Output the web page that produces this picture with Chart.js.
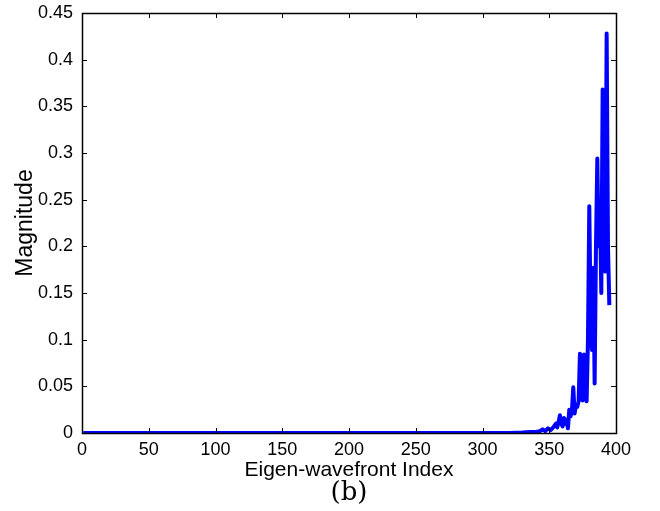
<!DOCTYPE html>
<html>
<head>
  <meta charset="UTF-8" />
  <title>Eigen-wavefront Magnitude</title>
  <style>
    body { margin: 0; background: #fff; }
    #wrap { width: 660px; height: 511px; }
  </style>
</head>
<body>
<div id="wrap"><canvas id="graph"></canvas></div>

<script src="https://cdn.jsdelivr.net/npm/chart.js"></script>
<script>
// eigen-wavefront index and magnitude
const indices = [1, 320, 330, 336, 340, 343, 345, 347, 349, 351, 353, 355, 356, 357, 358, 359, 360,
  361, 362, 363, 364, 365, 366, 367, 368, 369, 370, 371, 372, 373, 374, 375, 376, 377, 378,
  379, 380, 381, 382, 383, 384, 385, 386, 387, 388, 389, 390, 391, 392, 393, 394, 395];
const magnitudes = [0, 0, 0.0005, 0.001, 0.001, 0.002, 0.004, 0.002, 0.005, 0.003, 0.006, 0.010, 0.006, 0.012, 0.019, 0.010, 0.007,
  0.016, 0.010, 0.014, 0.005, 0.025, 0.018, 0.024, 0.049, 0.021, 0.030, 0.028, 0.034, 0.085, 0.040, 0.035, 0.084, 0.060, 0.034,
  0.100, 0.243, 0.120, 0.089, 0.177, 0.053, 0.200, 0.294, 0.200, 0.239, 0.150, 0.368, 0.200, 0.173, 0.428, 0.200, 0.137];

const xTickLabels = ['0', '50', '100', '150', '200', '250', '300', '350', '400'];
const yTickLabels = ['0', '0.05', '0.1', '0.15', '0.2', '0.25', '0.3', '0.35', '0.4', '0.45'];

// matlab style box with inward ticks on all sides
const boxTicks = {
  id: 'boxTicks',
  afterDraw(chart) {
    const { ctx, chartArea: a, scales: { x, y } } = chart;
    const len = 5;
    ctx.save();
    ctx.strokeStyle = '#000';
    ctx.lineWidth = 1;
    ctx.beginPath();
    x.ticks.forEach(t => {
      const px = Math.round(x.getPixelForValue(t.value)) + 0.5;
      ctx.moveTo(px, a.bottom); ctx.lineTo(px, a.bottom - len);
      ctx.moveTo(px, a.top); ctx.lineTo(px, a.top + len);
    });
    y.ticks.forEach(t => {
      const py = Math.round(y.getPixelForValue(t.value)) + 0.5;
      ctx.moveTo(a.left, py); ctx.lineTo(a.left + len, py);
      ctx.moveTo(a.right, py); ctx.lineTo(a.right - len, py);
    });
    ctx.stroke();
    ctx.lineWidth = 1.5;
    ctx.strokeRect(Math.round(a.left) + 0.5, Math.round(a.top) + 0.5,
      Math.round(a.right - a.left), Math.round(a.bottom - a.top));
    ctx.restore();
  }
};

const tickFont = { family: "'Liberation Sans', Arial, sans-serif", size: 18 };
const titleFont = { family: "'Liberation Sans', Arial, sans-serif", size: 21 };

new Chart(document.getElementById('graph'), {
  type: 'line',
  data: {
    datasets: [{
      data: indices.map((v, i) => ({ x: v, y: magnitudes[i] })),
      borderColor: '#0000ff',
      borderWidth: 4,
      borderJoinStyle: 'round',
      pointRadius: 0,
      tension: 0,
      fill: false
    }]
  },
  options: {
    responsive: true,
    maintainAspectRatio: false,
    animation: false,
    layout: { padding: { left: 0, right: 44, top: 13, bottom: 0 } },
    plugins: {
      legend: { display: false },
      tooltip: { enabled: false },
      subtitle: {
        display: true,
        position: 'bottom',
        fullSize: false,
        text: '(b)',
        color: '#000',
        font: { family: "'DejaVu Serif', 'Liberation Serif', serif", size: 26, weight: 'normal', lineHeight: 1 },
        padding: { top: 0, bottom: 5 }
      }
    },
    scales: {
      x: {
        type: 'linear',
        min: 0, max: 400,
        grid: { display: false, drawTicks: false },
        border: { display: false },
        ticks: {
          stepSize: 50,
          color: '#000',
          font: tickFont,
          padding: 6,
          maxRotation: 0,
          callback: (v, i) => xTickLabels[i]
        },
        title: { display: true, text: 'Eigen-wavefront Index', color: '#000', font: titleFont, padding: { top: 0, bottom: -3 } },
        afterFit: s => { s.height = 47; }
      },
      y: {
        min: 0, max: 0.45,
        grid: { display: false, drawTicks: false },
        border: { display: false },
        ticks: {
          stepSize: 0.05,
          color: '#000',
          font: tickFont,
          padding: 9,
          callback: (v, i) => yTickLabels[i]
        },
        title: {
          display: true, text: 'Magnitude', color: '#000',
          font: { family: titleFont.family, size: 23 },
          padding: { top: 12, bottom: 0 }
        },
        afterFit: s => { s.width = 82; s.paddingTop = 0; s.paddingBottom = 0; }
      }
    }
  },
  plugins: [boxTicks]
});
</script>
</body>
</html>
